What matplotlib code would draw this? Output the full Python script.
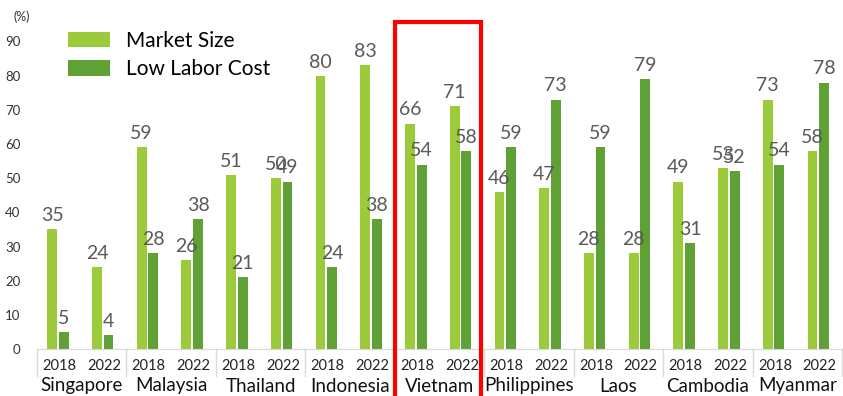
import matplotlib.pyplot as plt
import matplotlib.transforms as mtransforms
from matplotlib.patches import Rectangle
import numpy as np

plt.rcParams['font.family'] = ['Lato', 'DejaVu Sans']

countries = ['Singapore', 'Malaysia', 'Thailand', 'Indonesia', 'Vietnam',
             'Philippines', 'Laos', 'Cambodia', 'Myanmar']
years = ['2018', '2022']
market_size = [35, 24, 59, 26, 51, 50, 80, 83, 66, 71, 46, 47, 28, 28, 49, 53, 73, 58]
low_labor = [5, 4, 28, 38, 21, 49, 24, 38, 54, 58, 59, 73, 59, 79, 31, 52, 54, 78]

light = '#9BCB3B'
dark = '#5FA135'
grey_txt = '#595959'

fig = plt.figure(figsize=(8.43, 3.96), dpi=100)
ax = fig.add_axes([37 / 843, 1 - 349 / 396, 805 / 843, 328 / 396])

x = np.arange(len(market_size))
w = 0.22
b1 = ax.bar(x - 0.16, market_size, w, color=light, label='Market Size')
b2 = ax.bar(x + 0.10, low_labor, w, color=dark, label='Low Labor Cost')

for bars, vals in [(b1, market_size), (b2, low_labor)]:
    for r, v in zip(bars, vals):
        ax.text(r.get_x() + r.get_width() / 2, v + 1.5, str(v), ha='center', va='bottom',
                fontsize=14, color=grey_txt)

ax.set_xlim(-0.5, len(x) - 0.5)
ax.set_ylim(0, 96)
ax.set_yticks(range(0, 91, 10))
ax.tick_params(axis='y', length=0, labelsize=9.5, labelcolor='#333333', pad=12)
ax.set_xticks([])
for s in ['top', 'right', 'left']:
    ax.spines[s].set_visible(False)
ax.spines['bottom'].set_color('#d9d9d9')

# two-level category axis: years, then countries
trans = mtransforms.blended_transform_factory(ax.transData, fig.transFigure)
for i in x:
    ax.text(i, 1 - 366 / 396, years[i % 2], transform=trans, ha='center', va='center',
            fontsize=10.5, color='#222222')
for j, c in enumerate(countries):
    ax.text(2 * j + 0.5, 1 - 386 / 396, c, transform=trans, ha='center', va='center',
            fontsize=13.5, color='#111111')
for j in range(len(countries) + 1):
    ax.plot([2 * j - 0.5, 2 * j - 0.5], [1 - 349 / 396, 1 - 376 / 396], transform=trans,
            color='#d9d9d9', lw=1, clip_on=False)

fig.text(22 / 843, 1 - 17 / 396, '(%)', fontsize=9, color='#333333', ha='center', va='center')

# highlight box round Vietnam
ax.add_patch(Rectangle((7.5, -20), 1.93, 115.6, fill=False, edgecolor='#FF0000', lw=3,
                       clip_on=False, zorder=5))

ax.legend(loc='upper left', bbox_to_anchor=(68 / 843, 1 - 31 / 396), bbox_transform=fig.transFigure,
          frameon=False, fontsize=15, borderaxespad=0, borderpad=0,
          handlelength=2.0, handleheight=0.75, labelspacing=0.4, handletextpad=0.8)

fig.savefig('out.png', dpi=100)
